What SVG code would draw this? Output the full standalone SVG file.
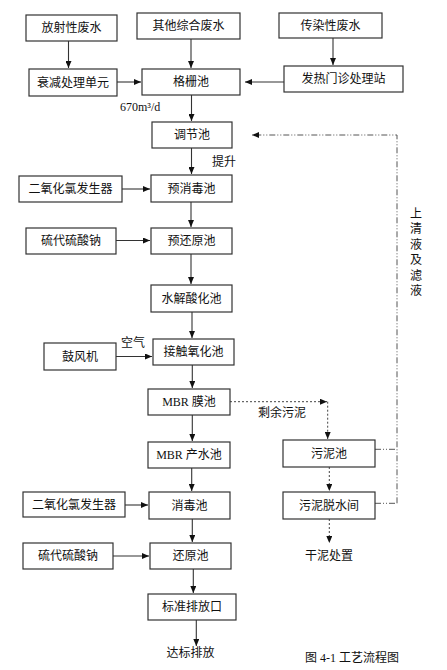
<svg xmlns="http://www.w3.org/2000/svg" width="447" height="670" viewBox="0 0 447 670">
<style>
.box{fill:#fff;stroke:#333;stroke-width:1.2}
.t{font-family:"Liberation Serif","Noto Sans CJK SC",serif;font-size:12px;fill:#111;text-anchor:middle}
.tl{font-family:"Liberation Serif","Noto Sans CJK SC",serif;font-size:12px;fill:#111}
.ln{fill:none;stroke:#333;stroke-width:1.1;marker-end:url(#ah)}
.dl{fill:none;stroke:#444;stroke-width:1;stroke-dasharray:2,2}
.dd{fill:none;stroke:#555;stroke-width:1;stroke-dasharray:6,2,1,2,1,2}
</style>
<defs>
<marker id="ah" markerUnits="userSpaceOnUse" markerWidth="7" markerHeight="6" refX="7" refY="3" orient="auto">
<path d="M0,0 L7,3 L0,6 z" fill="#111"/>
</marker>
</defs>
<rect width="447" height="670" fill="#fff"/>
<g id="connectors">
<path class="ln" d="M68.5,41 V68"/>
<path class="ln" d="M191,39 V68"/>
<path class="ln" d="M333,38 V65"/>
<path class="ln" d="M117,82 H141"/>
<path class="ln" d="M284,82 H245"/>
<path class="ln" d="M191.5,95 V121"/>
<path class="ln" d="M191.5,148 V174"/>
<path class="ln" d="M122,189 H150"/>
<path class="ln" d="M191,202 V227"/>
<path class="ln" d="M116,240.5 H150"/>
<path class="ln" d="M191,254 V284"/>
<path class="ln" d="M192,312 V338"/>
<path class="ln" d="M116,356.5 H152"/>
<path class="ln" d="M192.3,365 V388"/>
<path class="ln" d="M192.3,415 V441"/>
<path class="ln" d="M191.7,468 V491"/>
<path class="ln" d="M125,505 H148"/>
<path class="ln" d="M192.3,519 V542"/>
<path class="ln" d="M113,556 H149"/>
<path class="ln" d="M193.3,569 V593"/>
<path class="ln" d="M196.3,620 V646"/>
<path class="dl" d="M230,401.7 H327" marker-end="url(#ah)"/>
<path class="dl" d="M327.7,401.7 V439" marker-end="url(#ah)"/>
<path class="dl" d="M329.3,467 V491" marker-end="url(#ah)"/>
<path class="dl" d="M329.3,519 V543" marker-end="url(#ah)"/>
<path class="dd" d="M375,449.3 H397"/>
<path class="dd" d="M375,503.3 H397"/>
<path class="dd" d="M397,503.3 V135 H252" marker-end="url(#ah)"/>
</g>
<g id="n1"><rect class="box" x="26" y="15" width="91" height="26"/><text class="t" x="71.5" y="32">放射性废水</text></g>
<g id="n2"><rect class="box" x="137" y="13" width="103" height="26"/><text class="t" x="188.5" y="30">其他综合废水</text></g>
<g id="n3"><rect class="box" x="279" y="13" width="103" height="25"/><text class="t" x="330.5" y="29.5">传染性废水</text></g>
<g id="n4"><rect class="box" x="29" y="69" width="88" height="27"/><text class="t" x="73" y="86.5">衰减处理单元</text></g>
<g id="n5"><rect class="box" x="142" y="69" width="98" height="26"/><text class="t" x="191" y="86">格栅池</text></g>
<g id="n6"><rect class="box" x="284" y="66" width="119" height="26"/><text class="t" x="343.5" y="83">发热门诊处理站</text></g>
<g id="n7"><rect class="box" x="152" y="122" width="80" height="26"/><text class="t" x="192" y="139">调节池</text></g>
<g id="n8"><rect class="box" x="19" y="176" width="103" height="26"/><text class="t" x="70.5" y="193">二氧化氯发生器</text></g>
<g id="n9"><rect class="box" x="151" y="175" width="81" height="27"/><text class="t" x="191.5" y="192.5">预消毒池</text></g>
<g id="n10"><rect class="box" x="26" y="228" width="90" height="26"/><text class="t" x="71" y="245">硫代硫酸钠</text></g>
<g id="n11"><rect class="box" x="151" y="228" width="81" height="26"/><text class="t" x="191.5" y="245">预还原池</text></g>
<g id="n12"><rect class="box" x="151" y="285" width="81" height="27"/><text class="t" x="191.5" y="302.5">水解酸化池</text></g>
<g id="n13"><rect class="box" x="44" y="343" width="72" height="27"/><text class="t" x="80" y="360.5">鼓风机</text></g>
<g id="n14"><rect class="box" x="153" y="339" width="81" height="26"/><text class="t" x="193.5" y="356">接触氧化池</text></g>
<g id="n15"><rect class="box" x="148" y="389" width="82" height="26"/><text class="t" x="189" y="406">MBR 膜池</text></g>
<g id="n16"><rect class="box" x="148" y="442" width="82" height="26"/><text class="t" x="189" y="459">MBR 产水池</text></g>
<g id="n17"><rect class="box" x="283" y="440" width="92" height="27"/><text class="t" x="329" y="457.5">污泥池</text></g>
<g id="n18"><rect class="box" x="283" y="492" width="92" height="27"/><text class="t" x="329" y="509.5">污泥脱水间</text></g>
<g id="n19"><rect class="box" x="23" y="492" width="102" height="25"/><text class="t" x="74" y="508.5">二氧化氯发生器</text></g>
<g id="n20"><rect class="box" x="149" y="492" width="81" height="27"/><text class="t" x="189.5" y="509.5">消毒池</text></g>
<g id="n21"><rect class="box" x="23" y="543" width="90" height="26"/><text class="t" x="68" y="560">硫代硫酸钠</text></g>
<g id="n22"><rect class="box" x="150" y="543" width="81" height="26"/><text class="t" x="190.5" y="560">还原池</text></g>
<g id="n23"><rect class="box" x="148" y="594" width="88" height="26"/><text class="t" x="192" y="611">标准排放口</text></g>
<g id="labels">
<text class="tl" x="120" y="111">670m³/d</text>
<text class="tl" x="212" y="166">提升</text>
<text class="tl" x="121" y="347">空气</text>
<text class="tl" x="258" y="417">剩余污泥</text>
<text class="t" x="329" y="560">干泥处置</text>
<text class="t" x="190.5" y="657">达标排放</text>
<text class="tl" x="305" y="661.5">图 4-1  工艺流程图</text>
<text class="t" x="416"><tspan x="416" y="217.5">上</tspan><tspan x="416" y="233">清</tspan><tspan x="416" y="248.5">液</tspan><tspan x="416" y="264">及</tspan><tspan x="416" y="279.5">滤</tspan><tspan x="416" y="295">液</tspan></text>
</g>
</svg>
